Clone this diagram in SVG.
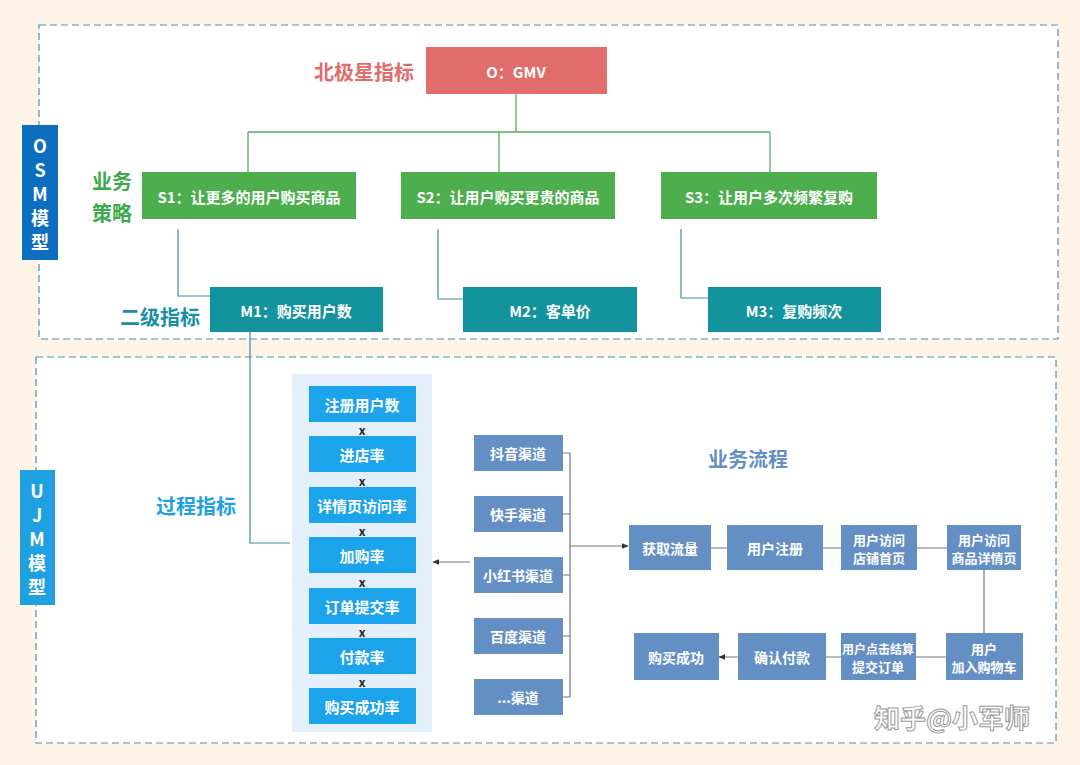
<svg xmlns="http://www.w3.org/2000/svg" width="1080" height="765" viewBox="0 0 1080 765">
<defs>
<style>
text{font-family:"Noto Sans CJK SC","Liberation Sans",sans-serif;font-weight:bold;text-anchor:middle;dominant-baseline:central}
.w{fill:#fff}
.dash{fill:#fff;stroke:#4a90b8;stroke-width:1.2;stroke-dasharray:7 4}
.g{fill:#4cae4c}.t{fill:#12939e}.p{fill:#1ba3ec}.s{fill:#648fc4}
.cg{stroke:#5aaa5a;fill:none;stroke-width:1.3}
.ct{stroke:#3f8aa8;fill:none;stroke-width:1.2}
.cs{stroke:#777;fill:none;stroke-width:1.2}
</style>
<marker id="a" viewBox="0 0 10 10" refX="9" refY="5" markerWidth="6" markerHeight="6" orient="auto"><path d="M0,1 L10,5 L0,9z" fill="#333"/></marker>
</defs>
<rect width="1080" height="765" fill="#fdf3e7"/>
<rect class="dash" x="39" y="25" width="1019" height="314"/>
<rect class="dash" x="36" y="357" width="1020" height="386"/>
<g id="osm-label" font-size="18"><rect x="22" y="125" width="36" height="135" fill="#0d6ebf"/>
<text class="w" x="40" y="145">O</text><text class="w" x="40" y="169">S</text><text class="w" x="40" y="193">M</text><text class="w" x="40" y="217">模</text><text class="w" x="40" y="241">型</text></g>
<g id="ujm-label" font-size="18"><rect x="20" y="470" width="35" height="135" fill="#1fa0e0"/>
<text class="w" x="37" y="490">U</text><text class="w" x="37" y="514">J</text><text class="w" x="37" y="538">M</text><text class="w" x="37" y="562">模</text><text class="w" x="37" y="586">型</text></g>
<text x="364" y="71" font-size="20" fill="#e06c6c">北极星指标</text>
<text x="112" y="180" font-size="20" fill="#3aaa4a">业务</text>
<text x="112" y="212" font-size="20" fill="#3aaa4a">策略</text>
<text x="160" y="316" font-size="20" fill="#1a8fa8">二级指标</text>
<text x="196" y="505" font-size="20" fill="#1fa0e0">过程指标</text>
<text x="748" y="458" font-size="20" fill="#648fc4">业务流程</text>
<g id="connectors">
<path class="cg" d="M516,94V132M248,132H770M248,132V172M499,132V172M770,132V172"/>
<path class="ct" d="M178,229V296H210M438,229V299H463M681,229V298H708M250,332V543H290"/>
<path class="cs" d="M563,453H570M563,514H570M563,575H570M563,636H570M563,697H570M570,453V697"/>
<path class="cs" d="M570,546H628" marker-end="url(#a)" stroke="#333" stroke-width="1.6"/>
<path class="cs" d="M470,562H433" marker-end="url(#a)" stroke="#333"/>
<path class="cs" d="M711,548H727M823,548H841M917,548H947M984,570V633M946,657H916M841,657H826M738,657H719" marker-end="url(#a)"/>
</g>
<g font-size="15">
<g id="o"><rect x="426" y="47" width="181" height="47" fill="#e06c6c"/><text class="w" x="516" y="71">O：GMV</text></g>
<g id="s1"><rect class="g" x="142" y="172" width="214" height="47"/><text class="w" x="249" y="196">S1：让更多的用户购买商品</text></g>
<g id="s2"><rect class="g" x="401" y="172" width="214" height="47"/><text class="w" x="508" y="196">S2：让用户购买更贵的商品</text></g>
<g id="s3"><rect class="g" x="661" y="172" width="216" height="47"/><text class="w" x="769" y="196">S3：让用户多次频繁复购</text></g>
<g id="m1"><rect class="t" x="210" y="287" width="173" height="45"/><text class="w" x="296" y="310">M1：购买用户数</text></g>
<g id="m2"><rect class="t" x="463" y="287" width="174" height="45"/><text class="w" x="550" y="310">M2：客单价</text></g>
<g id="m3"><rect class="t" x="708" y="287" width="173" height="45"/><text class="w" x="794" y="310">M3：复购频次</text></g>
<g id="process"><rect x="292" y="374" width="140" height="358" fill="#e3f0fb"/>
<rect class="p" x="309" y="386" width="107" height="36"/><text class="w" x="362" y="404">注册用户数</text>
<rect class="p" x="309" y="436" width="107" height="36"/><text class="w" x="362" y="454">进店率</text>
<rect class="p" x="309" y="487" width="107" height="36"/><text class="w" x="362" y="505">详情页访问率</text>
<rect class="p" x="309" y="537" width="107" height="36"/><text class="w" x="362" y="555">加购率</text>
<rect class="p" x="309" y="588" width="107" height="36"/><text class="w" x="362" y="606">订单提交率</text>
<rect class="p" x="309" y="638" width="107" height="36"/><text class="w" x="362" y="656">付款率</text>
<rect class="p" x="309" y="688" width="107" height="36"/><text class="w" x="362" y="706">购买成功率</text>
<g font-size="12" fill="#222"><text x="362" y="429">x</text><text x="362" y="480">x</text><text x="362" y="530">x</text><text x="362" y="581">x</text><text x="362" y="631">x</text><text x="362" y="681">x</text></g></g>
</g>
<g id="channels" font-size="14">
<rect class="s" x="474" y="435" width="89" height="36"/><text class="w" x="518" y="453">抖音渠道</text>
<rect class="s" x="474" y="496" width="89" height="36"/><text class="w" x="518" y="514">快手渠道</text>
<rect class="s" x="474" y="557" width="89" height="36"/><text class="w" x="518" y="575">小红书渠道</text>
<rect class="s" x="474" y="618" width="89" height="36"/><text class="w" x="518" y="636">百度渠道</text>
<rect class="s" x="474" y="679" width="89" height="36"/><text class="w" x="518" y="697">...渠道</text></g>
<g id="flow" font-size="13">
<rect class="s" x="629" y="525" width="82" height="45"/><text class="w" x="670" y="548" font-size="14">获取流量</text>
<rect class="s" x="727" y="525" width="96" height="45"/><text class="w" x="775" y="548" font-size="14">用户注册</text>
<rect class="s" x="841" y="525" width="76" height="45"/><text class="w" x="879" y="539">用户访问</text><text class="w" x="879" y="557">店铺首页</text>
<rect class="s" x="947" y="525" width="74" height="45"/><text class="w" x="984" y="539">用户访问</text><text class="w" x="984" y="557">商品详情页</text>
<rect class="s" x="946" y="633" width="77" height="47"/><text class="w" x="984" y="648">用户</text><text class="w" x="984" y="666">加入购物车</text>
<rect class="s" x="841" y="633" width="75" height="47"/><text class="w" x="878" y="648" font-size="12">用户点击结算</text><text class="w" x="878" y="666">提交订单</text>
<rect class="s" x="738" y="633" width="88" height="47"/><text class="w" x="782" y="657" font-size="14">确认付款</text>
<rect class="s" x="634" y="633" width="85" height="47"/><text class="w" x="676" y="657" font-size="14">购买成功</text></g>
<text x="952" y="716" font-size="26" font-weight="normal" fill="#fff" stroke="#999" stroke-width="1">知乎@小军师</text>
</svg>
